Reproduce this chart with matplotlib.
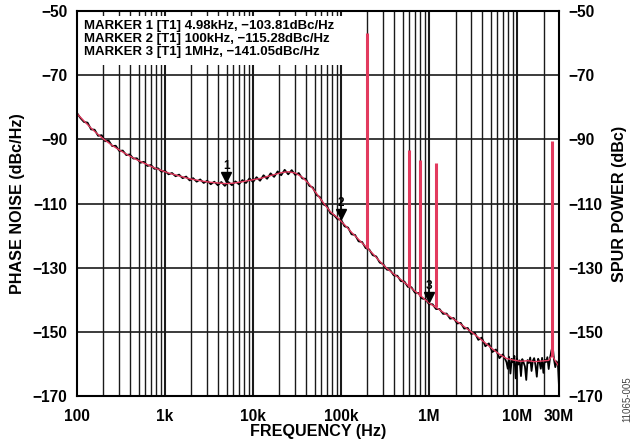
import numpy as np
import matplotlib
matplotlib.use("Agg")
import matplotlib.pyplot as plt
from matplotlib.patches import Rectangle

plt.rcParams['font.family'] = ['Liberation Sans', 'DejaVu Sans']

# ---- data ----
black_exp_low = np.round(np.arange(2.00, 6.8801, 0.04), 2)
black_val_low = [
    -81.8, -83.4, -84.6, -84.8, -86.9, -87.0, -88.9, -88.7, -90.6, -90.4,
    -92.1, -92.0, -93.6, -93.5, -94.9, -94.7, -96.0, -95.9, -97.3, -97.0,
    -98.3, -98.0, -99.2, -99.0, -100.1, -99.8, -100.9, -100.5, -101.5, -101.0,
    -102.1, -101.6, -102.8, -102.1, -103.2, -102.5, -103.6, -102.9, -104.0, -103.2,
    -104.3, -103.3, -104.5, -103.3, -104.3, -103.1, -104.0, -102.7, -103.6, -102.2,
    -103.3, -101.8, -102.9, -101.2, -102.3, -100.6, -101.7, -100.0, -101.2, -99.5,
    -100.9, -99.6, -101.1, -100.5, -102.2, -102.3, -104.5, -105.0, -107.3, -108.0,
    -110.3, -110.8, -113.1, -113.6, -114.9, -115.0, -117.1, -117.5, -119.6, -119.8,
    -121.8, -122.0, -123.9, -124.3, -126.1, -126.5, -128.4, -128.9, -130.6, -130.8,
    -132.4, -132.5, -134.2, -134.3, -136.0, -136.1, -137.8, -137.9, -139.6, -139.8,
    -141.4, -141.4, -142.9, -142.9, -144.4, -144.3, -145.9, -145.7, -147.4, -147.2,
    -149.0, -148.8, -150.7, -150.3, -152.5, -151.8, -154.5, -153.6, -156.3, -155.5,
    -158.2, -157.0, -159.4,
]
black_exp_high = [6.895, 6.910, 6.925, 6.940, 6.955, 6.970, 6.985, 7.000, 7.015, 7.030,
                  7.045, 7.060, 7.075, 7.090, 7.105, 7.120, 7.135, 7.150, 7.165, 7.180,
                  7.195, 7.210, 7.225, 7.240, 7.255, 7.270, 7.285, 7.300, 7.315, 7.330,
                  7.345, 7.360, 7.375, 7.390, 7.405, 7.420, 7.435, 7.450, 7.465, 7.477]
black_val_high = [
    -161.5, -157.8, -163.0, -158.4, -159.5, -157.5, -164.5, -158.3, -160.2, -158.9,
    -163.8, -158.5, -159.6, -160.8, -165.0, -158.8, -159.7, -158.0, -162.2, -159.0,
    -158.2, -160.4, -164.0, -158.4, -159.3, -161.5, -158.1, -162.8, -158.7, -159.4,
    -157.9, -161.6, -158.2, -156.0, -154.3, -158.6, -161.0, -159.2, -160.1, -167.0,
]

red_exp = [2.00, 2.08, 2.16, 2.24, 2.32, 2.40, 2.48, 2.56, 2.64, 2.72, 2.80, 2.88, 2.96,
           3.04, 3.12, 3.20, 3.28, 3.36, 3.44, 3.52, 3.60, 3.68, 3.76, 3.84, 3.92,
           4.00, 4.08, 4.16, 4.24, 4.32, 4.40, 4.48, 4.56, 4.64, 4.72, 4.80, 4.88, 4.96,
           5.04, 5.12, 5.20, 5.28, 5.36, 5.44, 5.52, 5.60, 5.68, 5.76, 5.84, 5.92,
           6.00, 6.08, 6.16, 6.24, 6.32, 6.40, 6.48, 6.56, 6.64, 6.72, 6.80, 6.88,
           6.96, 7.04, 7.12, 7.20, 7.28, 7.36, 7.40, 7.44, 7.477]
red_val = [-82.0, -84.3, -86.5, -88.5, -90.3, -91.9, -93.3, -94.6, -95.8, -96.9, -97.9, -98.9, -99.7,
           -100.5, -101.1, -101.7, -102.3, -102.7, -103.1, -103.4, -103.6, -103.8, -103.7, -103.4, -103.0,
           -102.6, -102.2, -101.6, -101.0, -100.4, -100.1, -100.5, -101.8, -104.0, -106.8, -109.8, -112.6, -114.4,
           -116.6, -119.0, -121.2, -123.4, -125.6, -128.0, -130.2, -132.0, -133.7, -135.5, -137.3, -139.1,
           -141.0, -142.4, -143.9, -145.3, -146.8, -148.4, -150.0, -151.7, -153.5, -155.3, -157.0, -158.3,
           -158.8, -159.2, -159.0, -159.3, -159.1, -158.9, -157.3, -159.3, -160.8]

spur_freq = [200e3, 600e3, 800e3, 1.2e6, 25e6]
spur_power = [-57.0, -93.3, -96.4, -97.3, -90.5]

marker_freq = [4.98e3, 100e3, 1e6]
marker_val = [-103.81, -115.28, -141.05]
marker_labels = ['1', '2', '3']

marker_text = ["MARKER 1 [T1] 4.98kHz, \u2212103.81dBc/Hz",
               "MARKER 2 [T1] 100kHz, \u2212115.28dBc/Hz",
               "MARKER 3 [T1] 1MHz, \u2212141.05dBc/Hz"]

xticks = [100, 1e3, 1e4, 1e5, 1e6, 1e7, 3e7]
xtick_labels = ['100', '1k', '10k', '100k', '1M', '10M', '30M']
yticks = [-50, -70, -90, -110, -130, -150, -170]

RED = '#E23A5E'
TICK_FS = 11.2
LAB_FS = 11.6

# ---- figure ----
fig = plt.figure(figsize=(6.36, 4.44), dpi=100)
ax = fig.add_axes([77/636, 48/444, 482/636, 385/444])
ax.set_xscale('log')
ax.set_xlim(100, 3e7)
ax.set_ylim(-170, -50)

# grid
for dec in range(2, 8):
    for m in range(1, 10):
        f = m * 10**dec
        if f <= 100 or f >= 3e7:
            continue
        ax.axvline(f, color='#1a1a1a', lw=1.5 if m == 1 else 1.0, zorder=1)
for y in yticks[1:-1]:
    ax.axhline(y, color='#1a1a1a', lw=1.2, zorder=1)

# marker text box (white)
ax.add_patch(Rectangle((0, 0.86), 0.551, 0.128, transform=ax.transAxes,
                       facecolor='white', edgecolor='none', zorder=2))
for i, t in enumerate(marker_text):
    ax.text(0.015, 0.962 - i * 0.0345, t, transform=ax.transAxes, fontsize=9.5,
            fontweight='bold', va='center', ha='left', zorder=3)

# traces
bx = np.concatenate([10 ** black_exp_low, 10 ** np.array(black_exp_high)])
by = np.concatenate([black_val_low, black_val_high])
ax.plot(bx, by, color='black', lw=1.3, zorder=4)
rx = 10 ** np.array(red_exp)
ax.plot(rx, red_val, color=RED, lw=1.0, zorder=5)

# spurs
for f, p in zip(spur_freq, spur_power):
    base = np.interp(np.log10(f), red_exp, red_val)
    ax.vlines(f, base, p, color=RED, lw=2.2, zorder=5)

# markers
for f, v, lab in zip(marker_freq, marker_val, marker_labels):
    ax.plot([f], [v + 2.0], marker='v', color='black', markersize=7, zorder=6,
            linestyle='none')
    ax.text(f, v + 5.4, lab, fontsize=8.5, fontweight='bold', ha='center',
            va='center', zorder=6)

# axes styling
for s in ax.spines.values():
    s.set_linewidth(1.5)
    s.set_zorder(7)
ax.set_xticks(xticks)
ax.set_xticklabels(xtick_labels)
ax.xaxis.set_minor_locator(matplotlib.ticker.NullLocator())
ax.set_yticks(yticks)
ax.set_yticklabels([('\u2212%d' % abs(v)) for v in yticks])
ax.tick_params(axis='y', length=0, labelsize=TICK_FS, pad=7)
ax.tick_params(axis='x', length=0, labelsize=TICK_FS, pad=9)
for lbl in ax.get_xticklabels() + ax.get_yticklabels():
    lbl.set_fontweight('bold')
ax.set_xlabel('FREQUENCY (Hz)', fontsize=LAB_FS, fontweight='bold')
ax.xaxis.label.set_verticalalignment('center')
ax.set_ylabel('PHASE NOISE (dBc/Hz)', fontsize=LAB_FS, fontweight='bold')
ax.xaxis.set_label_coords(0.5, -0.093)
ax.yaxis.set_label_coords(-0.108, 0.5)

ax2 = ax.twinx()
ax2.set_ylim(-170, -50)
ax2.set_yticks(yticks)
ax2.set_yticklabels([('\u2212%d' % abs(v)) for v in yticks])
ax2.tick_params(axis='y', length=0, labelsize=TICK_FS, pad=7)
for lbl in ax2.get_yticklabels():
    lbl.set_fontweight('bold')
ax2.set_ylabel('SPUR POWER (dBc)', fontsize=LAB_FS, fontweight='bold')
ax2.yaxis.set_label_coords(1.110, 0.5)
for s in ax2.spines.values():
    s.set_visible(False)

fig.text(0.987, 0.10, '11065-005', rotation=90, fontsize=7, color='#444444',
         ha='center', va='center')

fig.savefig('out.png', dpi=100)
